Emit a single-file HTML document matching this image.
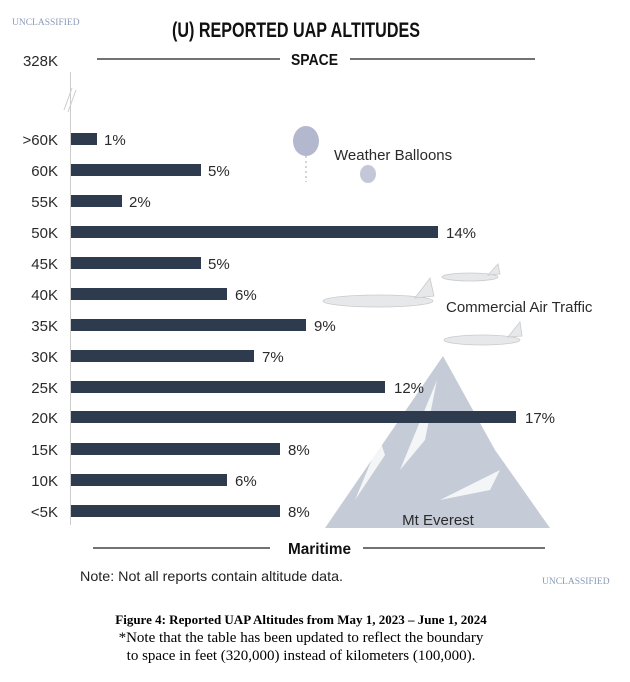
<!DOCTYPE html>
<html><head><meta charset="utf-8"><style>
html,body{margin:0;padding:0;background:#fff;}
svg{display:block;}
.lab{font-family:"Liberation Sans",sans-serif;font-size:15px;fill:#2a2a2a;}
.cond{font-family:"Liberation Sans",sans-serif;font-weight:bold;fill:#111;}
.ser{font-family:"Liberation Serif",serif;}
</style></head><body>
<svg width="630" height="682" viewBox="0 0 630 682" xmlns="http://www.w3.org/2000/svg">
<text x="12" y="25" class="ser" font-size="9.5" fill="#8a9ab8">UNCLASSIFIED</text>
<text x="172" y="37" class="cond" font-size="21" textLength="248" lengthAdjust="spacingAndGlyphs">(U) REPORTED UAP ALTITUDES</text>
<text x="58" y="66" class="lab" text-anchor="end">328K</text>
<line x1="97" y1="59" x2="280" y2="59" stroke="#444" stroke-width="1.5"/>
<line x1="350" y1="59" x2="535" y2="59" stroke="#444" stroke-width="1.5"/>
<text x="291" y="65" class="cond" font-size="16" textLength="47" lengthAdjust="spacingAndGlyphs">SPACE</text>
<line x1="70.5" y1="72" x2="70.5" y2="525" stroke="#ccc" stroke-width="1"/>
<line x1="64" y1="110" x2="72" y2="88" stroke="#ccc" stroke-width="1"/>
<line x1="68" y1="112" x2="76" y2="90" stroke="#ccc" stroke-width="1"/>
<!-- mountain -->
<polygon points="325,528 443,356 495,450 550,528" fill="#c5ccd7"/>
<polygon points="437,380 400,470 425,440" fill="#fff" opacity="0.8"/>
<polygon points="380,440 355,500 385,455" fill="#fff" opacity="0.8"/>
<polygon points="440,500 500,470 490,490" fill="#fff" opacity="0.8"/>
<text x="438" y="525" class="lab" font-size="15" text-anchor="middle">Mt Everest</text>
<!-- balloons -->
<ellipse cx="306" cy="141" rx="13" ry="15" fill="#b4b8cf"/>
<line x1="306" y1="156" x2="306" y2="182" stroke="#aaa" stroke-dasharray="2,3"/>
<ellipse cx="368" cy="174" rx="8" ry="9" fill="#c4c7d8"/>
<text x="334" y="160" class="lab" font-size="15">Weather Balloons</text>
<!-- planes -->
<g fill="#e6e8ea" stroke="#c8cacc" stroke-width="0.8">
<ellipse cx="378" cy="301" rx="55" ry="6"/><polygon points="415,298 430,278 434,296"/>
<ellipse cx="470" cy="277" rx="28" ry="4"/><polygon points="488,275 498,264 500,274"/>
<ellipse cx="482" cy="340" rx="38" ry="5"/><polygon points="508,337 520,322 522,336"/>
</g>
<text x="446" y="312" class="lab" font-size="15">Commercial Air Traffic</text>
<!-- bars -->
<g fill="#2e3a4d">
<rect x="71" y="133" width="26" height="12"/>
<rect x="71" y="164" width="130" height="12"/>
<rect x="71" y="195" width="51" height="12"/>
<rect x="71" y="226" width="367" height="12"/>
<rect x="71" y="257" width="130" height="12"/>
<rect x="71" y="288" width="156" height="12"/>
<rect x="71" y="319" width="235" height="12"/>
<rect x="71" y="350" width="183" height="12"/>
<rect x="71" y="381" width="314" height="12"/>
<rect x="71" y="411" width="445" height="12"/>
<rect x="71" y="443" width="209" height="12"/>
<rect x="71" y="474" width="156" height="12"/>
<rect x="71" y="505" width="209" height="12"/>
</g>
<g class="lab" text-anchor="end">
<text x="58" y="145">&gt;60K</text><text x="58" y="176">60K</text><text x="58" y="207">55K</text>
<text x="58" y="238">50K</text><text x="58" y="269">45K</text><text x="58" y="300">40K</text>
<text x="58" y="331">35K</text><text x="58" y="362">30K</text><text x="58" y="393">25K</text>
<text x="58" y="423">20K</text><text x="58" y="455">15K</text><text x="58" y="486">10K</text>
<text x="58" y="517">&lt;5K</text>
</g>
<g class="lab">
<text x="104" y="145">1%</text><text x="208" y="176">5%</text><text x="129" y="207">2%</text>
<text x="446" y="238">14%</text><text x="208" y="269">5%</text><text x="235" y="300">6%</text>
<text x="314" y="331">9%</text><text x="262" y="362">7%</text><text x="394" y="393">12%</text>
<text x="525" y="423">17%</text><text x="288" y="455">8%</text><text x="235" y="486">6%</text>
<text x="288" y="517">8%</text>
</g>
<line x1="93" y1="548" x2="270" y2="548" stroke="#444" stroke-width="1.5"/>
<line x1="363" y1="548" x2="545" y2="548" stroke="#444" stroke-width="1.5"/>
<text x="288" y="554" class="cond" font-size="16" textLength="63" lengthAdjust="spacingAndGlyphs">Maritime</text>
<text x="80" y="581" font-family="Liberation Sans, sans-serif" font-size="14" fill="#222" textLength="263" lengthAdjust="spacingAndGlyphs">Note: Not all reports contain altitude data.</text>
<text x="542" y="584" class="ser" font-size="9.5" fill="#8a9ab8">UNCLASSIFIED</text>
<text x="301" y="624" class="ser" font-size="13" font-weight="bold" text-anchor="middle">Figure 4:  Reported UAP Altitudes from May 1, 2023 – June 1, 2024</text>
<text x="301" y="642" class="ser" font-size="15" text-anchor="middle">*Note that the table has been updated to reflect the boundary</text>
<text x="301" y="660" class="ser" font-size="15" text-anchor="middle">to space in feet (320,000) instead of kilometers (100,000).</text>
</svg>
</body></html>
